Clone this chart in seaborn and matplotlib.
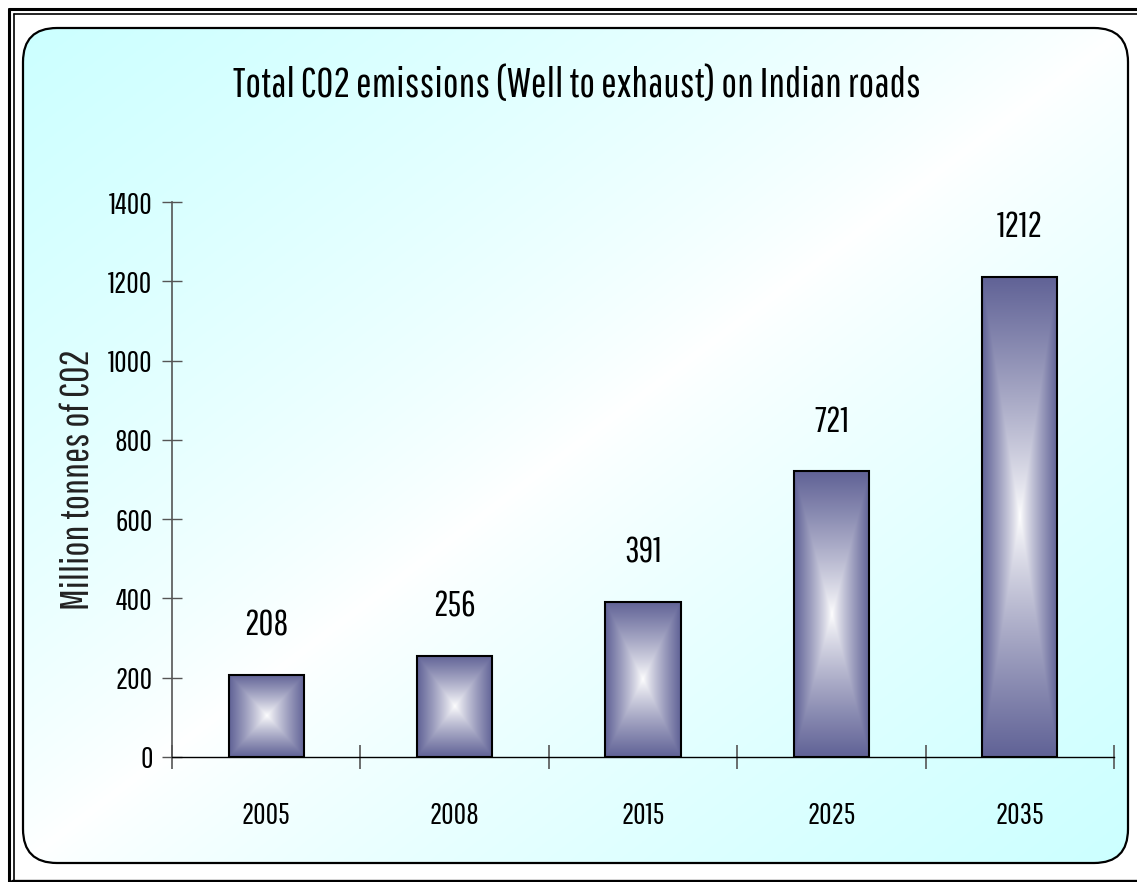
import numpy as np
import pandas as pd
import matplotlib
matplotlib.use("Agg")
import matplotlib.pyplot as plt
import seaborn as sns
from matplotlib.patches import FancyBboxPatch
from matplotlib.lines import Line2D

# ---- data ----
years = ["2005", "2008", "2015", "2025", "2035"]
emissions = [208, 256, 391, 721, 1212]
y_ticks = [0, 200, 400, 600, 800, 1000, 1200, 1400]
title = "Total CO2 emissions (Well to exhaust) on Indian roads"
ylabel = "Million tonnes of CO2"

df = pd.DataFrame({"year": years, "value": emissions})

sns.set_theme(style="white")
FONT = ["Pathway Gothic One", "DejaVu Sans"]
plt.rcParams["font.family"] = FONT

W, H = 1137, 882
fig = plt.figure(figsize=(W / 100, H / 100), dpi=100)
fig.patch.set_facecolor("white")

# ---- background (pixel coordinates) ----
bg = fig.add_axes([0, 0, 1, 1], zorder=0)
bg.set_xlim(0, W)
bg.set_ylim(H, 0)
bg.axis("off")

bx0, by0, bx1, by1 = 23, 28, 1128, 863
ny, nx = 300, 400
gy, gx = np.mgrid[0:1:ny * 1j, 0:1:nx * 1j]
s = (gx + gy) / 2.0
t = np.clip(np.abs(s - 0.5) * 2.0, 0, 1) ** 0.75
cyan = np.array([204, 255, 255]) / 255.0
white = np.array([1.0, 1.0, 1.0])
img = white[None, None, :] * (1 - t[..., None]) + cyan[None, None, :] * t[..., None]
box = FancyBboxPatch((bx0, by0), bx1 - bx0, by1 - by0,
                     boxstyle="round,pad=0,rounding_size=34",
                     facecolor="none", edgecolor="black", linewidth=1.6, zorder=3)
bg.add_patch(box)
im = bg.imshow(img, extent=[bx0, bx1, by1, by0], origin="upper", aspect="auto", zorder=1)
im.set_clip_path(box)

# outer double frame (left and top), single bottom line
bg.add_line(Line2D([8.5, 8.5], [8.5, H], color="black", lw=2.2))
bg.add_line(Line2D([8.5, W], [8.5, 8.5], color="black", lw=2.2))
bg.add_line(Line2D([13.5, 13.5], [13.5, 880], color="black", lw=1.2))
bg.add_line(Line2D([13.5, W], [13.5, 13.5], color="black", lw=1.2))
bg.add_line(Line2D([12, W], [880.5, 880.5], color="black", lw=2.4))

# ---- main axes ----
ax = fig.add_axes([172 / W, 1 - 757 / H, (1114 - 172) / W, (757 - 202) / H], zorder=2)
ax.patch.set_alpha(0)

sns.barplot(data=df, x="year", y="value", ax=ax, width=0.4,
            color="#62649A", edgecolor="black", linewidth=1.5, saturation=1)

edge = np.array([96, 98, 150]) / 255.0
ny2, nx2 = 400, 200
vv, uu = np.mgrid[-1:1:ny2 * 1j, -1:1:nx2 * 1j]
tt = np.maximum(np.abs(uu), np.abs(vv)) ** 0.85
grad = white[None, None, :] * (1 - tt[..., None]) + edge[None, None, :] * tt[..., None]

for p in list(ax.patches):
    x, y = p.get_x(), p.get_y()
    w, h = p.get_width(), p.get_height()
    gi = ax.imshow(grad, extent=[x, x + w, y, y + h], origin="lower",
                   aspect="auto", zorder=1.5, interpolation="bilinear")
    gi.set_clip_path(p)
    p.set_facecolor("none")
    p.set_zorder(2)

for i, v in enumerate(emissions):
    ax.text(i, v + 125, str(v), ha="center", va="center", fontsize=26,
            family=FONT, color="black")

ax.set_xlim(-0.5, len(years) - 0.5)
ax.set_ylim(0, 1400)
ax.set_yticks(y_ticks)
ax.set_yticklabels([str(v) for v in y_ticks])
ax.set_xticks(range(len(years)))
ax.set_xticklabels(years)
ax.set_xticks(np.arange(-0.5, len(years), 1.0), minor=True)

for side in ["top", "right"]:
    ax.spines[side].set_visible(False)
ax.spines["left"].set_color("#555555")
ax.spines["left"].set_linewidth(1.2)
ax.spines["bottom"].set_color("black")
ax.spines["bottom"].set_linewidth(1.0)

ax.tick_params(axis="y", which="major", direction="inout", length=14,
               width=1.0, color="#555555", labelsize=22, pad=7, left=True,
               labelcolor="black")
ax.tick_params(axis="x", which="major", length=0, labelsize=22, pad=32,
               labelcolor="black")
ax.tick_params(axis="x", which="minor", direction="inout", length=17,
               width=1.2, color="#555555", bottom=True)

ax.set_xlabel("")
ax.set_ylabel(ylabel, fontsize=29, labelpad=8, color="#222222")

fig.text(577 / W, 1 - 85 / H, title, ha="center", va="center",
         fontsize=30, family=FONT, color="black")

fig.savefig("out.png", dpi=100)
